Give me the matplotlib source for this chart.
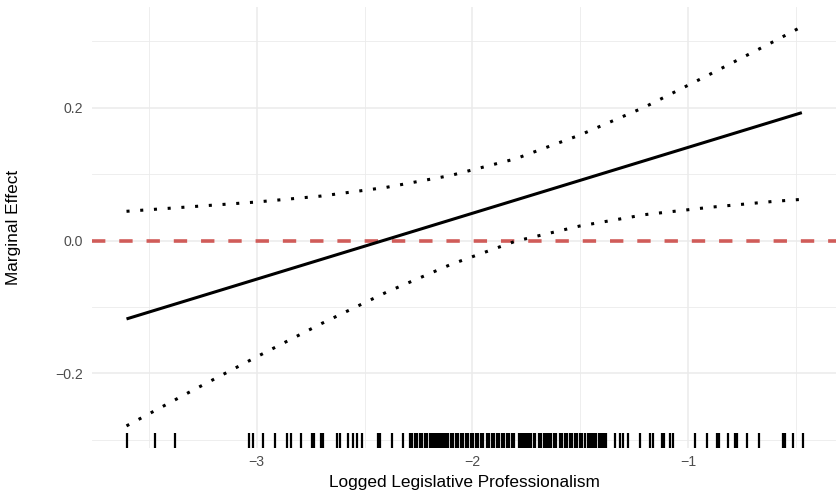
import matplotlib
matplotlib.use("Agg")
import matplotlib.pyplot as plt

plt.rcParams['font.family'] = ['Liberation Sans', 'DejaVu Sans']

# marginal effect estimate (straight line between its end points)
me_x = [-3.604, -0.472]
me_y = [-0.118, 0.1925]

# confidence bounds read along the moderator
ci_x = [-3.604, -3.3, -3.0, -2.7, -2.4, -2.1, -1.8, -1.5, -1.2, -0.9, -0.6, -0.472]
ci_upper = [0.044, 0.051, 0.058, 0.067, 0.080, 0.098, 0.123, 0.159, 0.201, 0.250, 0.300, 0.322]
ci_lower = [-0.279, -0.226, -0.175, -0.125, -0.078, -0.036, -0.001, 0.022, 0.039, 0.050, 0.059, 0.062]

# observed values of logged legislative professionalism (rug)
rug_x = [
    -3.604, -3.472, -3.379, -3.034, -3.016, -2.972, -2.915, -2.861, -2.842, -2.795,
    -2.745, -2.733, -2.702, -2.691, -2.629, -2.614, -2.575, -2.552, -2.534, -2.513,
    -2.439, -2.428, -2.374, -2.323,
    -2.289, -2.283, -2.278, -2.266, -2.260, -2.255, -2.243, -2.237, -2.232, -2.220,
    -2.214, -2.209, -2.196, -2.190, -2.183, -2.171, -2.166, -2.160, -2.148, -2.142,
    -2.137, -2.125, -2.119, -2.113, -2.101, -2.096, -2.090, -2.078, -2.072, -2.066,
    -2.055, -2.049, -2.043, -2.031, -2.026, -2.020, -2.008, -2.002, -1.996, -1.985,
    -1.979, -1.973, -1.961, -1.956, -1.950, -1.930, -1.922, -1.908, -1.902, -1.886,
    -1.881, -1.875, -1.863, -1.857, -1.851, -1.840, -1.834, -1.828, -1.816, -1.811,
    -1.805, -1.786, -1.781, -1.775, -1.763, -1.757, -1.751, -1.740, -1.734, -1.728,
    -1.716, -1.710, -1.693, -1.688, -1.682, -1.670, -1.664, -1.658, -1.647, -1.641,
    -1.635, -1.623, -1.618, -1.612, -1.594, -1.589, -1.583, -1.571, -1.565, -1.560,
    -1.548, -1.542, -1.536, -1.525, -1.519, -1.513, -1.501, -1.496, -1.490, -1.479,
    -1.462, -1.456, -1.450, -1.439, -1.433, -1.427, -1.415, -1.410, -1.404, -1.392,
    -1.386, -1.381,
    -1.339, -1.316, -1.300, -1.277, -1.223, -1.177, -1.164, -1.122, -1.110, -1.084,
    -1.071, -0.968, -0.914, -0.867, -0.855, -0.816, -0.782, -0.775, -0.728, -0.670,
    -0.561, -0.551, -0.515, -0.466,
]

x_ticks = [-3, -2, -1]
y_ticks = [-0.2, 0.0, 0.2]

fig = plt.figure(figsize=(8.37, 4.91), dpi=100)
ax = fig.add_axes([92 / 837, 1 - 447.5 / 491, (837 - 92) / 837, (447.5 - 7) / 491])

ax.set_xlim(-3.764, -0.309)
ax.set_ylim(-0.3115, 0.3515)

ax.set_xticks(x_ticks)
ax.set_xticklabels(['\u22123', '\u22122', '\u22121'])
ax.set_xticks([-3.5, -2.5, -1.5, -0.5], minor=True)
ax.set_yticks(y_ticks)
ax.set_yticklabels(['\u22120.2', '0.0', '0.2'])
ax.set_yticks([-0.3, -0.1, 0.1, 0.3], minor=True)

ax.grid(which='major', color='#EBEBEB', lw=1.1)
ax.grid(which='minor', color='#EBEBEB', lw=0.6)
ax.set_axisbelow(True)
for s in ax.spines.values():
    s.set_visible(False)
ax.tick_params(which='both', length=0)
ax.tick_params(axis='x', pad=5.5, labelsize=10.2, labelcolor='#4D4D4D')
ax.tick_params(axis='y', pad=6.5, labelsize=10.2, labelcolor='#4D4D4D')

# zero reference line
ax.axhline(0, color='#D05C59', lw=2.6, dashes=(3.7, 3.85))

# bounds and estimate
ax.plot(ci_x, ci_upper, color='black', lw=2.2, dashes=(1, 3.5))
ax.plot(ci_x, ci_lower, color='black', lw=2.2, dashes=(1, 3.5))
ax.plot(me_x, me_y, color='black', lw=2.2, solid_capstyle='butt')

# rug along the bottom
ax.vlines(rug_x, 0, 0.032, transform=ax.get_xaxis_transform(), color='black', lw=1.6)

fig.text(464.5 / 837, 1 - 487 / 491, 'Logged Legislative Professionalism',
         ha='center', va='baseline', fontsize=12.4)
fig.text(13.7 / 837, 1 - 227 / 491, 'Marginal Effect', rotation=90,
         ha='center', va='center', fontsize=12.4)

fig.savefig('out.png', dpi=100)
